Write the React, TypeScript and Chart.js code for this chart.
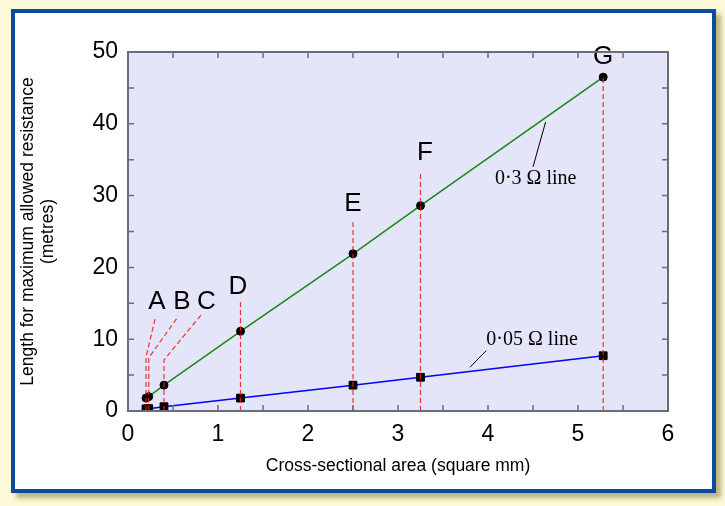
import React, { useEffect, useRef } from 'react';
import { Chart, registerables } from 'chart.js';

Chart.register(...registerables);

// ---- data ----
const pointNames = ['A', 'B', 'C', 'D', 'E', 'F', 'G'];
const areas = [0.2, 0.23, 0.4, 1.25, 2.5, 3.25, 5.28];
const length03 = [1.8, 2.0, 3.6, 11.1, 21.9, 28.6, 46.5];
const length005 = [0.3, 0.33, 0.6, 1.8, 3.6, 4.7, 7.7];
const xTickValues = [0, 1, 2, 3, 4, 5, 6];
const yTickValues = [0, 10, 20, 30, 40, 50];
// annotation anchors in data units
const labelX = [0.32, 0.6, 0.87, 1.22, 2.5, 3.3, 5.28];
const labelY = [15.2, 15.2, 15.2, 17.3, 28.9, 35.9, 49.3];
const dropTop = [7.5, 7.4, 7.1, 15.5, 26.3, 33.3, 46.5];
const elbowX = [0.3, 0.56, 0.82];
const elbowY = [12.8, 13.2, 13.5];
const lineNotes = ['0·3 Ω line', '0·05 Ω line'];
const noteTextX = [4.53, 4.49];
const noteTextY = [32.4, 9.9];
const leaderFromX = [4.5, 3.8];
const leaderFromY = [34.0, 6.1];
const leaderToX = [4.64, 3.98];
const leaderToY = [40.25, 8.4];

const annotPlugin = {
  id: 'annot',
  beforeDatasetsDraw(chart: any) {
    const { ctx, chartArea: a } = chart;
    ctx.save();
    ctx.fillStyle = '#e5e5fa';
    ctx.fillRect(a.left, a.top, a.right - a.left, a.bottom - a.top);
    ctx.restore();
  },
  afterDatasetsDraw(chart: any) {
    const { ctx } = chart;
    const xs = chart.scales.x;
    const ys = chart.scales.y;
    const px = (v: number) => xs.getPixelForValue(v);
    const py = (v: number) => ys.getPixelForValue(v);
    ctx.save();
    // red dashed drop lines
    ctx.strokeStyle = 'rgba(240,30,30,0.9)';
    ctx.lineWidth = 1.2;
    ctx.setLineDash([5, 3]);
    areas.forEach((x, i) => {
      ctx.beginPath();
      ctx.moveTo(px(x), py(0));
      ctx.lineTo(px(x), py(dropTop[i]));
      if (i < elbowX.length) ctx.lineTo(px(elbowX[i]), py(elbowY[i]));
      ctx.stroke();
    });
    ctx.setLineDash([]);
    // letters
    ctx.fillStyle = '#000';
    ctx.font = '26px "Liberation Sans", Arial, sans-serif';
    ctx.textAlign = 'center';
    ctx.textBaseline = 'middle';
    pointNames.forEach((n, i) => {
      ctx.fillText(n, px(labelX[i]), py(labelY[i]));
    });
    // line notes
    ctx.strokeStyle = '#000';
    ctx.lineWidth = 1;
    ctx.font = '20px "Liberation Serif", "DejaVu Serif", serif';
    lineNotes.forEach((t, i) => {
      ctx.beginPath();
      ctx.moveTo(px(leaderFromX[i]), py(leaderFromY[i]));
      ctx.lineTo(px(leaderToX[i]), py(leaderToY[i]));
      ctx.stroke();
      ctx.fillText(t, px(noteTextX[i]), py(noteTextY[i]));
    });
    ctx.restore();
  },
  afterDraw(chart: any) {
    const { ctx, chartArea: a } = chart;
    const xs = chart.scales.x;
    const ys = chart.scales.y;
    ctx.save();
    ctx.strokeStyle = '#6c6c76';
    ctx.lineWidth = 1.5;
    const tl = 6;
    for (let v = 0.5; v < 6; v += 0.5) {
      const x = xs.getPixelForValue(v);
      ctx.beginPath();
      ctx.moveTo(x, a.bottom);
      ctx.lineTo(x, a.bottom - tl);
      ctx.moveTo(x, a.top);
      ctx.lineTo(x, a.top + tl);
      ctx.stroke();
    }
    for (let v = 5; v < 50; v += 5) {
      const y = ys.getPixelForValue(v);
      ctx.beginPath();
      ctx.moveTo(a.left, y);
      ctx.lineTo(a.left + tl, y);
      ctx.moveTo(a.right, y);
      ctx.lineTo(a.right - tl, y);
      ctx.stroke();
    }
    ctx.lineWidth = 2;
    ctx.strokeRect(a.left, a.top, a.right - a.left, a.bottom - a.top);
    // axis titles
    ctx.fillStyle = '#000';
    ctx.font = '17.5px "Liberation Sans", Arial, sans-serif';
    ctx.textAlign = 'center';
    ctx.textBaseline = 'middle';
    ctx.fillText('Cross-sectional area (square mm)', (a.left + a.right) / 2, 466);
    const cy = (a.top + a.bottom) / 2;
    ctx.translate(28, cy);
    ctx.rotate(-Math.PI / 2);
    ctx.fillText('Length for maximum allowed resistance', 0, 0);
    ctx.fillText('(metres)', 0, 20);
    ctx.restore();
  },
};

export default function App() {
  const ref = useRef<HTMLCanvasElement | null>(null);
  useEffect(() => {
    if (!ref.current) return;
    const chart = new Chart(ref.current, {
      type: 'scatter',
      data: {
        datasets: [
          {
            data: areas.map((x, i) => ({ x, y: length03[i] })),
            showLine: true,
            borderColor: '#138a13',
            borderWidth: 1.5,
            pointStyle: 'circle',
            pointRadius: 4,
            pointBackgroundColor: '#000',
            pointBorderColor: '#000',
            pointBorderWidth: 1,
          },
          {
            data: areas.map((x, i) => ({ x, y: length005[i] })),
            showLine: true,
            borderColor: '#0000ff',
            borderWidth: 1.5,
            pointStyle: 'rect',
            pointRadius: 5.5,
            pointBackgroundColor: '#000',
            pointBorderColor: '#000',
            pointBorderWidth: 1,
          },
        ],
      },
      options: {
        responsive: false,
        animation: false,
        devicePixelRatio: 1,
        layout: { padding: { left: 0, top: 52, right: 57, bottom: 0 } },
        plugins: { legend: { display: false }, tooltip: { enabled: false } },
        scales: {
          x: {
            type: 'linear',
            min: 0,
            max: 6,
            afterFit: (s: any) => { s.height = 95; },
            afterBuildTicks: (s: any) => { s.ticks = xTickValues.map((v) => ({ value: v })); },
            ticks: {
              color: '#000',
              padding: 10,
              maxRotation: 0,
              font: { family: '"Liberation Sans", Arial, sans-serif', size: 23 },
            },
            grid: { display: false, drawTicks: false, tickLength: 0 },
            border: { display: false },
          },
          y: {
            type: 'linear',
            min: 0,
            max: 50,
            afterFit: (s: any) => { s.width = 128; },
            afterBuildTicks: (s: any) => { s.ticks = yTickValues.map((v) => ({ value: v })); },
            ticks: {
              color: '#000',
              padding: 10,
              font: { family: '"Liberation Sans", Arial, sans-serif', size: 23 },
            },
            grid: { display: false, drawTicks: false, tickLength: 0 },
            border: { display: false },
          },
        },
      },
      plugins: [annotPlugin],
    } as any);
    return () => chart.destroy();
  }, []);

  return (
    <div style={{ position: 'fixed', left: 0, top: 0, width: 725, height: 506, background: '#fcfad8', overflow: 'hidden' }}>
      <div
        style={{
          position: 'absolute',
          left: 11,
          top: 9,
          width: 705,
          height: 484,
          boxSizing: 'border-box',
          border: '4px solid #0b4aa0',
          background: '#ffffff',
          boxShadow: '5px 5px 5px rgba(130,120,50,0.55)',
        }}
      />
      <canvas ref={ref} width={725} height={506} style={{ position: 'absolute', left: 0, top: 0, width: 725, height: 506 }} />
    </div>
  );
}
